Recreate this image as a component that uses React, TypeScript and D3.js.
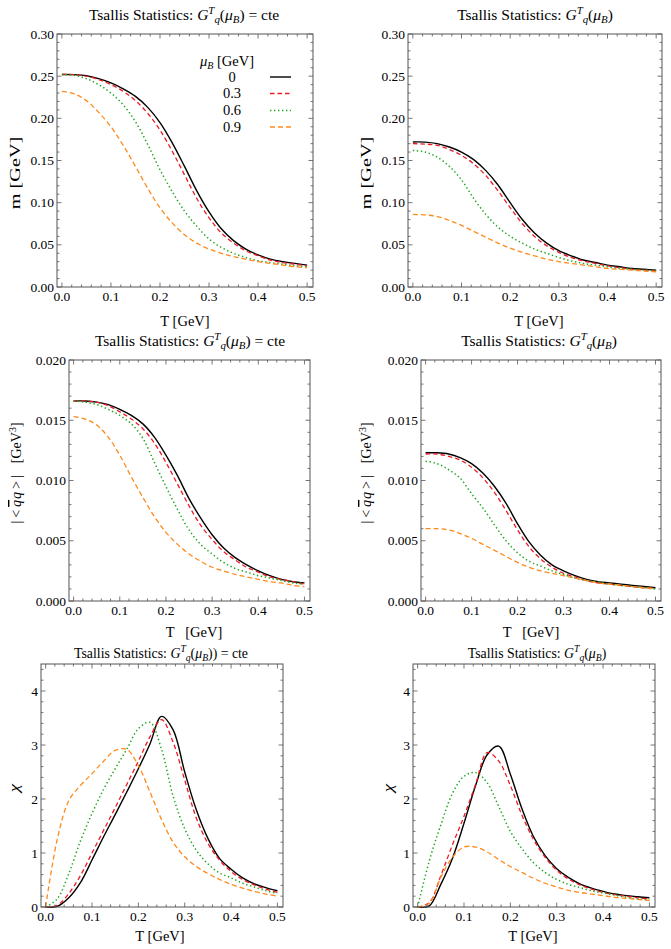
import React from "react";
import * as d3 from "d3";

// temperature grid shared by every curve [GeV]
const T = [0, 0.025, 0.05, 0.075, 0.1, 0.125, 0.15, 0.175, 0.2, 0.225, 0.25,
  0.275, 0.3, 0.325, 0.35, 0.375, 0.4, 0.425, 0.45, 0.475, 0.5];

const muLabels = ["0", "0.3", "0.6", "0.9"];

// constituent mass m [GeV], G^T_q held constant
const mCte0 = [0.252, 0.2518, 0.2505, 0.247, 0.242, 0.235, 0.226, 0.213, 0.195, 0.171, 0.143, 0.114, 0.089, 0.069, 0.055, 0.045, 0.038, 0.033, 0.030, 0.028, 0.026];
const mCte3 = [0.252, 0.2518, 0.250, 0.246, 0.240, 0.232, 0.221, 0.206, 0.186, 0.161, 0.133, 0.105, 0.082, 0.064, 0.052, 0.043, 0.037, 0.032, 0.029, 0.027, 0.025];
const mCte6 = [0.252, 0.251, 0.247, 0.240, 0.230, 0.216, 0.196, 0.169, 0.139, 0.113, 0.090, 0.072, 0.057, 0.047, 0.040, 0.035, 0.031, 0.029, 0.027, 0.025, 0.024];
const mCte9 = [0.232, 0.229, 0.221, 0.207, 0.190, 0.168, 0.143, 0.117, 0.094, 0.076, 0.062, 0.052, 0.045, 0.040, 0.036, 0.033, 0.030, 0.028, 0.026, 0.024, 0.023];

// constituent mass m [GeV], G^T_q(mu_B)
const mMu0 = [0.172, 0.1718, 0.170, 0.166, 0.160, 0.151, 0.138, 0.121, 0.100, 0.080, 0.064, 0.052, 0.043, 0.037, 0.032, 0.029, 0.026, 0.024, 0.022, 0.021, 0.020];
const mMu3 = [0.170, 0.1695, 0.168, 0.163, 0.156, 0.146, 0.132, 0.114, 0.094, 0.075, 0.060, 0.049, 0.041, 0.035, 0.031, 0.028, 0.025, 0.023, 0.021, 0.020, 0.019];
const mMu6 = [0.162, 0.160, 0.154, 0.143, 0.127, 0.105, 0.086, 0.071, 0.060, 0.052, 0.045, 0.040, 0.035, 0.031, 0.028, 0.026, 0.024, 0.022, 0.021, 0.020, 0.019];
const mMu9 = [0.086, 0.0855, 0.0835, 0.079, 0.073, 0.066, 0.059, 0.052, 0.046, 0.041, 0.037, 0.033, 0.030, 0.028, 0.026, 0.024, 0.022, 0.021, 0.020, 0.019, 0.018];

// |<qbar q>| [GeV^3], G^T_q held constant
const qqCte0 = [0.0166, 0.0166, 0.0165, 0.0163, 0.0159, 0.0154, 0.0147, 0.0136, 0.0121, 0.0104, 0.0085, 0.0069, 0.0055, 0.0044, 0.0036, 0.0030, 0.0025, 0.0021, 0.0018, 0.0016, 0.0015];
const qqCte3 = [0.0166, 0.0166, 0.0165, 0.0162, 0.0157, 0.0151, 0.0143, 0.0131, 0.0115, 0.0097, 0.0079, 0.0063, 0.0051, 0.0041, 0.0034, 0.0028, 0.0024, 0.0020, 0.0018, 0.0016, 0.0014];
const qqCte6 = [0.0166, 0.0165, 0.0163, 0.0159, 0.0154, 0.0147, 0.0135, 0.0115, 0.0095, 0.0076, 0.0059, 0.0047, 0.0039, 0.0032, 0.0027, 0.0024, 0.0021, 0.0019, 0.0017, 0.0015, 0.0014];
const qqCte9 = [0.0153, 0.0151, 0.0146, 0.0136, 0.0121, 0.0103, 0.0086, 0.0070, 0.0057, 0.0047, 0.0039, 0.0033, 0.0028, 0.0025, 0.0022, 0.0020, 0.0018, 0.0016, 0.0015, 0.0013, 0.0012];

// |<qbar q>| [GeV^3], G^T_q(mu_B)
const qqMu0 = [0.0123, 0.0123, 0.0122, 0.0119, 0.0114, 0.0106, 0.0095, 0.0081, 0.0064, 0.0049, 0.0038, 0.0030, 0.0025, 0.0021, 0.0018, 0.0016, 0.0015, 0.0014, 0.0013, 0.0012, 0.0011];
const qqMu3 = [0.0122, 0.0122, 0.0120, 0.0117, 0.0111, 0.0102, 0.0090, 0.0075, 0.0059, 0.0045, 0.0035, 0.0028, 0.0023, 0.0020, 0.0017, 0.0015, 0.0014, 0.0013, 0.0012, 0.0011, 0.0011];
const qqMu6 = [0.0116, 0.0114, 0.0109, 0.0102, 0.0089, 0.0077, 0.0063, 0.0050, 0.0040, 0.0033, 0.0029, 0.0025, 0.0022, 0.0019, 0.0017, 0.0016, 0.0014, 0.0013, 0.0012, 0.0011, 0.0010];
const qqMu9 = [0.0060, 0.0060, 0.0059, 0.0056, 0.0052, 0.0047, 0.0042, 0.0037, 0.0032, 0.0028, 0.0025, 0.0023, 0.0021, 0.0019, 0.0017, 0.0015, 0.0014, 0.0013, 0.0012, 0.0011, 0.0010];

// susceptibility chi, G^T_q held constant
const chiCte0 = [0, 0.01, 0.17, 0.45, 0.87, 1.30, 1.71, 2.13, 2.56, 3.02, 3.53, 3.28, 2.50, 1.80, 1.27, 0.90, 0.70, 0.54, 0.43, 0.36, 0.30];
const chiCte3 = [0, 0.03, 0.25, 0.58, 1.00, 1.42, 1.84, 2.27, 2.70, 3.15, 3.47, 3.05, 2.35, 1.65, 1.18, 0.87, 0.66, 0.51, 0.41, 0.33, 0.27];
const chiCte6 = [0, 0.15, 0.62, 1.22, 1.73, 2.18, 2.56, 2.92, 3.30, 3.42, 2.92, 2.05, 1.45, 1.05, 0.80, 0.63, 0.54, 0.44, 0.37, 0.30, 0.25];
const chiCte9 = [0, 1.25, 1.97, 2.25, 2.47, 2.70, 2.90, 2.92, 2.62, 2.13, 1.62, 1.20, 0.93, 0.75, 0.62, 0.51, 0.42, 0.35, 0.29, 0.24, 0.20];

// susceptibility chi, G^T_q(mu_B)
const chiMu0 = [0, 0.02, 0.42, 0.90, 1.55, 2.25, 2.82, 2.98, 2.46, 1.82, 1.30, 0.95, 0.71, 0.55, 0.43, 0.35, 0.29, 0.24, 0.21, 0.19, 0.17];
const chiMu3 = [0, 0.08, 0.58, 1.15, 1.68, 2.27, 2.86, 2.70, 2.25, 1.70, 1.25, 0.92, 0.68, 0.52, 0.41, 0.33, 0.27, 0.23, 0.20, 0.17, 0.15];
const chiMu6 = [0, 0.85, 1.52, 2.10, 2.42, 2.49, 2.30, 1.86, 1.40, 1.08, 0.82, 0.64, 0.51, 0.42, 0.36, 0.30, 0.26, 0.22, 0.18, 0.15, 0.13];
const chiMu9 = [0, 0.07, 0.55, 0.92, 1.11, 1.11, 1.02, 0.88, 0.75, 0.64, 0.53, 0.44, 0.37, 0.31, 0.27, 0.24, 0.21, 0.18, 0.16, 0.14, 0.12];

const serif = { fontFamily: "'Liberation Serif', 'Times New Roman', serif" };
const FRAME = "#555";

const lineStyles = [
  { color: "#000000", dash: undefined, width: 1.4 },
  { color: "#ec1c24", dash: "4.5,3", width: 1.3 },
  { color: "#1ea61e", dash: "1.4,2.6", width: 1.5 },
  { color: "#ff8a1c", dash: "5,3", width: 1.3 },
];

type Box = { x0: number; x1: number; y0: number; y1: number };

function Panel(props: {
  box: Box; yMax: number; yMajor: number; yMinor: number; yFmt: string;
  series: number[][]; fontSize: number;
}) {
  const { box, yMax, yMajor, yMinor, yFmt, series, fontSize } = props;
  const x = d3.scaleLinear().domain([-0.01, 0.512]).range([box.x0, box.x1]);
  const y = d3.scaleLinear().domain([0, yMax]).range([box.y1, box.y0]);
  const xMajor = d3.range(0, 0.5001, 0.1);
  const xMinor = d3.range(0, 0.5001, 0.02);
  const yMaj = d3.range(0, yMax + 1e-9, yMajor);
  const yMin = d3.range(0, yMax + 1e-9, yMinor);
  const fmt = d3.format(yFmt);
  const line = d3.line<number>()
    .x((_, i) => x(T[i]))
    .y((d) => y(d))
    .curve(d3.curveCatmullRom.alpha(0.5));
  const big = 4.5, small = 2.5;

  return (
    <g>
      {series.map((s, i) => (
        <path key={i} d={line(s) || ""} fill="none" stroke={lineStyles[i].color}
          strokeWidth={lineStyles[i].width} strokeDasharray={lineStyles[i].dash} />
      ))}
      <rect x={box.x0} y={box.y0} width={box.x1 - box.x0} height={box.y1 - box.y0}
        fill="none" stroke={FRAME} strokeWidth={1} />
      {xMinor.map((v, i) => {
        const L = xMajor.some((m) => Math.abs(m - v) < 1e-6) ? big : small;
        return (
          <g key={"xt" + i} stroke={FRAME} strokeWidth={0.8}>
            <line x1={x(v)} x2={x(v)} y1={box.y1} y2={box.y1 - L} />
            <line x1={x(v)} x2={x(v)} y1={box.y0} y2={box.y0 + L} />
          </g>
        );
      })}
      {yMin.map((v, i) => {
        const L = yMaj.some((m) => Math.abs(m - v) < 1e-9) ? big : small;
        return (
          <g key={"yt" + i} stroke={FRAME} strokeWidth={0.8}>
            <line x1={box.x0} x2={box.x0 + L} y1={y(v)} y2={y(v)} />
            <line x1={box.x1} x2={box.x1 - L} y1={y(v)} y2={y(v)} />
          </g>
        );
      })}
      {xMajor.map((v, i) => (
        <text key={"xl" + i} x={x(v)} y={box.y1 + 14} textAnchor="middle"
          fontSize={fontSize} style={serif}>{d3.format(".1f")(v)}</text>
      ))}
      {yMaj.map((v, i) => (
        <text key={"yl" + i} x={box.x0 - 3} y={y(v) + 4.5} textAnchor="end"
          fontSize={fontSize} style={serif}>{fmt(v)}</text>
      ))}
    </g>
  );
}

// "Tsallis Statistics: G^T_q(mu_B)" with an optional tail
function Title(props: { x: number; y: number; size: number; tail: string }) {
  const { x, y, size, tail } = props;
  const s = size * 0.7;
  return (
    <text x={x} y={y} textAnchor="middle" fontSize={size} style={serif}>
      {"Tsallis Statistics: "}
      <tspan fontStyle="italic">G</tspan>
      <tspan fontSize={s} fontStyle="italic" dy={-size * 0.4}>T</tspan>
      <tspan fontSize={s} fontStyle="italic" dy={size * 0.62}>q</tspan>
      <tspan dy={-size * 0.22}>(</tspan>
      <tspan fontStyle="italic">μ</tspan>
      <tspan fontSize={s} fontStyle="italic" dy={size * 0.22}>B</tspan>
      <tspan dy={-size * 0.22}>{tail}</tspan>
    </text>
  );
}

function QQLabel(props: { x: number; y: number }) {
  return (
    <text transform={`translate(${props.x},${props.y}) rotate(-90)`} textAnchor="middle"
      fontSize={14} style={serif}>
      {"|"}
      <tspan dx={3}>{"<"}</tspan>
      <tspan dx={3} fontStyle="italic" textDecoration="overline">q</tspan>
      <tspan dx={1} fontStyle="italic">q</tspan>
      <tspan dx={3}>{">"}</tspan>
      <tspan dx={3}>{"|"}</tspan>
      <tspan dx={12}>[GeV</tspan>
      <tspan fontSize={10} dy={-5}>3</tspan>
      <tspan dy={5}>]</tspan>
    </text>
  );
}

function RotLabel(props: { x: number; y: number; children: React.ReactNode; italic?: boolean; stretch?: number }) {
  const k = props.stretch ?? 1;
  return (
    <text transform={`translate(${props.x},${props.y}) rotate(-90) scale(${k},1)`} textAnchor="middle"
      fontSize={14.5} style={serif} fontStyle={props.italic ? "italic" : undefined}>
      {props.children}
    </text>
  );
}

function Legend() {
  const rows = [81.5, 98, 115, 131.5];
  return (
    <g fontSize={14.5} style={serif}>
      <text x={200} y={65.5} style={serif}>
        <tspan fontStyle="italic">μ</tspan>
        <tspan fontSize={10} fontStyle="italic" dy={3}>B</tspan>
        <tspan dy={-3}> [GeV]</tspan>
      </text>
      {muLabels.map((m, i) => (
        <g key={m}>
          <text x={232} y={rows[i]} textAnchor="middle" style={serif}>{m}</text>
          <line x1={270} x2={291} y1={rows[i] - 4.5} y2={rows[i] - 4.5}
            stroke={lineStyles[i].color} strokeWidth={lineStyles[i].width}
            strokeDasharray={lineStyles[i].dash} />
        </g>
      ))}
    </g>
  );
}

function XLabel(props: { x: number; y: number; text: string }) {
  return (
    <text x={props.x} y={props.y} textAnchor="middle" fontSize={14.5}
      style={{ ...serif, whiteSpace: "pre" }}>{props.text}</text>
  );
}

export default function App() {
  return (
    <svg width={671} height={949} style={{ position: "absolute", left: 0, top: 0, background: "#fff" }}>
      <rect width={671} height={949} fill="#fff" />

      {/* row 1: constituent mass */}
      <Title x={184} y={20} size={15.5} tail=") = cte" />
      <Panel box={{ x0: 57, x1: 313, y0: 34, y1: 287 }} yMax={0.3} yMajor={0.05} yMinor={0.01}
        yFmt=".2f" series={[mCte0, mCte3, mCte6, mCte9]} fontSize={13.5} />
      <Legend />
      <RotLabel x={20} y={173} stretch={1.4}>m [GeV]</RotLabel>
      <XLabel x={185} y={326} text="T [GeV]" />

      <Title x={535} y={20} size={15.5} tail=")" />
      <Panel box={{ x0: 408, x1: 662, y0: 34, y1: 287 }} yMax={0.3} yMajor={0.05} yMinor={0.01}
        yFmt=".2f" series={[mMu0, mMu3, mMu6, mMu9]} fontSize={13.5} />
      <RotLabel x={371} y={173} stretch={1.4}>m [GeV]</RotLabel>
      <XLabel x={539} y={326} text="T [GeV]" />

      {/* row 2: chiral condensate */}
      <Title x={190} y={346} size={15.5} tail=") = cte" />
      <Panel box={{ x0: 69, x1: 310, y0: 360, y1: 601 }} yMax={0.02} yMajor={0.005} yMinor={0.001}
        yFmt=".3f" series={[qqCte0, qqCte3, qqCte6, qqCte9]} fontSize={13.5} />
      <QQLabel x={21} y={473} />
      <XLabel x={194} y={637} text="T   [GeV]" />

      <Title x={539} y={346} size={15.5} tail=")" />
      <Panel box={{ x0: 421, x1: 661, y0: 360, y1: 601 }} yMax={0.02} yMajor={0.005} yMinor={0.001}
        yFmt=".3f" series={[qqMu0, qqMu3, qqMu6, qqMu9]} fontSize={13.5} />
      <QQLabel x={371} y={473} />
      <XLabel x={531} y={637} text="T   [GeV]" />

      {/* row 3: susceptibility */}
      <Title x={161} y={658} size={13.8} tail=")) = cte" />
      <Panel box={{ x0: 41, x1: 283, y0: 664, y1: 907 }} yMax={4.5} yMajor={1} yMinor={0.2}
        yFmt="d" series={[chiCte0, chiCte3, chiCte6, chiCte9]} fontSize={13.5} />
      <RotLabel x={19} y={788} italic stretch={1.3}>χ</RotLabel>
      <XLabel x={160} y={941} text="T [GeV]" />

      <Title x={537} y={658} size={13.8} tail=")" />
      <Panel box={{ x0: 413, x1: 655, y0: 664, y1: 907 }} yMax={4.5} yMajor={1} yMinor={0.2}
        yFmt="d" series={[chiMu0, chiMu3, chiMu6, chiMu9]} fontSize={13.5} />
      <RotLabel x={393} y={788} italic stretch={1.3}>χ</RotLabel>
      <XLabel x={533} y={941} text="T [GeV]" />
    </svg>
  );
}
